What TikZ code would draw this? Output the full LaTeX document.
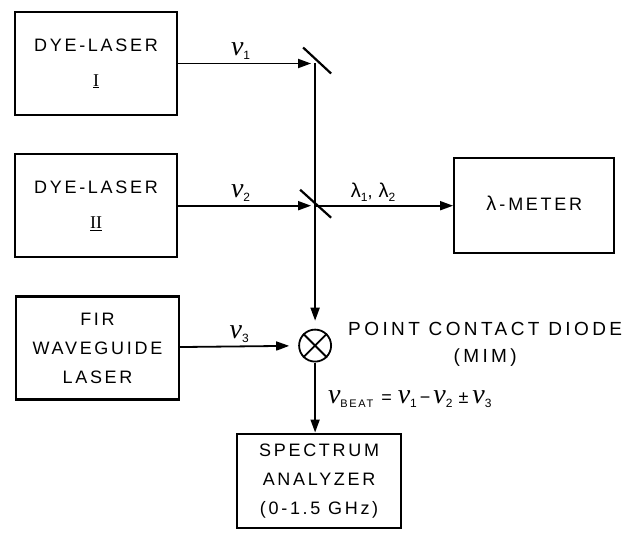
\documentclass[tikz,border=0pt]{standalone}
\usepackage{fontspec}
\setmainfont[LetterSpace=15]{Liberation Sans}
\newfontfamily\widefont[LetterSpace=18]{Liberation Sans}
\newfontfamily\romanfont{Liberation Serif}
\usetikzlibrary{arrows.meta, positioning, calc}
\newcommand{\lowidx}[1]{\raisebox{-4pt}{\fontsize{12}{12}\selectfont #1}}
\newcommand{\freq}[1]{{\fontsize{28}{28}\selectfont\romanfont\itshape ν}\lowidx{#1}}
\newcommand{\wave}[1]{{\fontsize{20}{20}\selectfont λ}\lowidx{#1}}
\tikzset{
  labbox/.style={rectangle, draw, line width=2.2pt, align=center,
                 minimum width=162pt, minimum height=103pt, inner sep=2pt},
  beam/.style={-{Triangle[length=13pt, width=9pt]}, line width=1.8pt},
  mirror/.style={line width=2.2pt},
  beamlabel/.style={above, inner sep=3pt},
}
\begin{document}
\begin{tikzpicture}[x=1pt, y=1pt, font=\fontsize{18}{29}\selectfont]
  \useasboundingbox (0,0) rectangle (628,-532);
  \node[labbox] (dye1) at (96,-63.5) {DYE-LASER\\[6pt] \underline{\romanfont I}};
  \node[labbox, below=37pt of dye1] (dye2) {DYE-LASER\\[6pt] \underline{\romanfont II}};
  \node[labbox, below=37pt of dye2, minimum width=163pt, xshift=1.5pt] (fir)
    {FIR\\ WAVEGUIDE\\ LASER};

  \coordinate[right=137pt of dye1] (m1);
  \coordinate[right=137pt of dye2] (m2);
  \node[circle, draw, line width=1.8pt, minimum size=32pt, inner sep=0pt,
        below=123pt of m2] (mix) {};
  \node[labbox, minimum width=160pt, minimum height=95pt, right=138pt of m2] (meter)
    {\wave{}\,-\,METER};
  \node[labbox, minimum width=164pt, minimum height=94pt, below=70pt of mix, xshift=4pt] (spec)
    {SPECTRUM\\ ANALYZER\\ (0-1.5 GHz)};
  \node[right=16pt of mix, align=center, inner sep=0pt, yshift=1pt,
        font=\fontsize{19}{27}\selectfont\widefont] (pcd)
    {POINT CONTACT DIODE\\ (MIM)};

  % beam splitters and mixer cross
  \draw[mirror] ($(m1)+(-12,16)$) -- ($(m1)+(16,-10)$);
  \draw[mirror] ($(m2)+(-15,16)$) -- ($(m2)+(16,-12)$);
  \draw[line width=1.8pt] (mix.north west) -- (mix.south east)
                          (mix.north east) -- (mix.south west);

  \draw[beam, shorten >=4pt] (dye1) -- node[beamlabel, xshift=-6pt]{\freq{1}} (m1);
  \draw[beam, shorten >=4pt] (dye2) -- node[beamlabel, xshift=-6pt]{\freq{2}} (m2);
  \draw[beam] (m2) -- node[beamlabel, xshift=-11pt]{\wave{1},\,\,\wave{2}} (meter);
  \draw[beam, shorten >=8pt] (m1) -- (mix);
  \draw[beam, shorten >=9pt] (fir) -- node[beamlabel]{\freq{3}} (mix);
  \draw[beam] (mix) -- node[right, inner sep=12pt, yshift=-2pt]
    {\freq{\fontsize{11}{11}\selectfont BEAT}\hspace{8pt}=\hspace{6pt}\freq{1}\,−\,\freq{2}\hspace{6pt}±\hspace{4pt}\freq{3}}
    (mix.south |- spec.north);
\end{tikzpicture}
\end{document}
